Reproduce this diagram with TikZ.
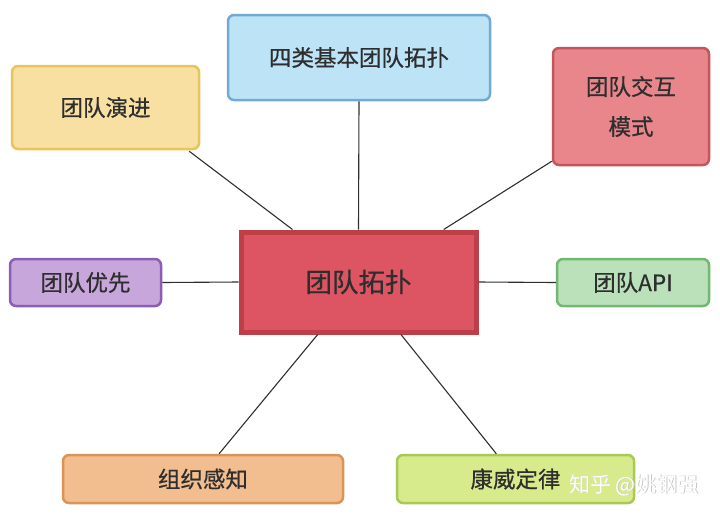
\documentclass[tikz,border=0pt]{standalone}
\usepackage{fontspec}
\setmainfont{Noto Sans CJK SC}[FakeBold=0.6]
\newfontfamily\wmfont{Noto Sans CJK SC}
\usetikzlibrary{calc}
\definecolor{txt}{HTML}{2E2E2E}
\definecolor{blueF}{HTML}{BDE3F6}\definecolor{blueD}{HTML}{74A9D6}
\definecolor{yelF}{HTML}{F7E0A2}\definecolor{yelD}{HTML}{E8C45C}
\definecolor{pinkF}{HTML}{E8868C}\definecolor{pinkD}{HTML}{C4555C}
\definecolor{purF}{HTML}{C7A6DB}\definecolor{purD}{HTML}{8B5DB3}
\definecolor{redF}{HTML}{DD5562}\definecolor{redD}{HTML}{BF3F48}
\definecolor{grnF}{HTML}{BAE1BA}\definecolor{grnD}{HTML}{72B872}
\definecolor{orF}{HTML}{F3BE8F}\definecolor{orD}{HTML}{D99456}
\definecolor{limF}{HTML}{D8EB8C}\definecolor{limD}{HTML}{A9C954}
\tikzset{
  topic/.style={draw, line width=2.5pt, rounded corners=6pt, text=txt,
    font=\fontsize{22.5}{40}\selectfont, align=center, inner sep=0pt},
  link/.style={draw=txt, line width=1.1pt},
}
\begin{document}
\begin{tikzpicture}[x=1pt,y=-1pt]
\useasboundingbox (0,0) rectangle (720,515);
\node[topic, fill=blueF, draw=blueD, minimum width=262pt, minimum height=85pt] (types) at (359,57.5) {四类基本团队拓扑};
\node[topic, fill=yelF, draw=yelD, minimum width=187pt, minimum height=83pt] (evo) at (105.5,107.5) {团队演进};
\node[topic, fill=pinkF, draw=pinkD, minimum width=156pt, minimum height=117pt] (intr) at (631,106.5) {团队交互\\模式};
\node[topic, fill=purF, draw=purD, minimum width=151pt, minimum height=47pt] (first) at (85.5,282.5) {团队优先};
\node[topic, fill=grnF, draw=grnD, minimum width=152pt, minimum height=47pt] (api) at (633,282.5) {团队API};
\node[topic, fill=orF, draw=orD, minimum width=280pt, minimum height=48pt] (aware) at (203,479) {组织感知};
\node[topic, fill=limF, draw=limD, minimum width=237pt, minimum height=48pt] (conway) at (515.5,479) {康威定律};
\node[draw=redD, fill=redF, line width=5pt, text=txt, font=\fontsize{26.5}{30}\selectfont,
  minimum width=235pt, minimum height=100pt] (center) at (358.5,282) {团队拓扑};

\draw[link] (types.south) -- (center.north);
\draw[link] ($(evo.south east)+(-11,1)$) -- ($(center.north west)!0.225!(center.north east)$);
\draw[link] ($(intr.south west)+(0,-5)$) -- ($(center.north west)!0.855!(center.north east)$);
\draw[link] (first.east) -- (center.west);
\draw[link] (center.east) -- (api.west);
\draw[link] ($(aware.north west)!0.557!(aware.north east)$) -- ($(center.south west)!0.33!(center.south east)$);
\draw[link] ($(conway.north west)!0.42!(conway.north east)$) -- ($(center.south west)!0.677!(center.south east)$);

\node[font=\wmfont\fontsize{21}{24}\selectfont, text=gray!45] (wm0) at (634.7,485.7) {知乎 @姚钢强};
\node[font=\wmfont\fontsize{21}{24}\selectfont, text=white] (wm) at (634,485) {知乎 @姚钢强};
\end{tikzpicture}
\end{document}
